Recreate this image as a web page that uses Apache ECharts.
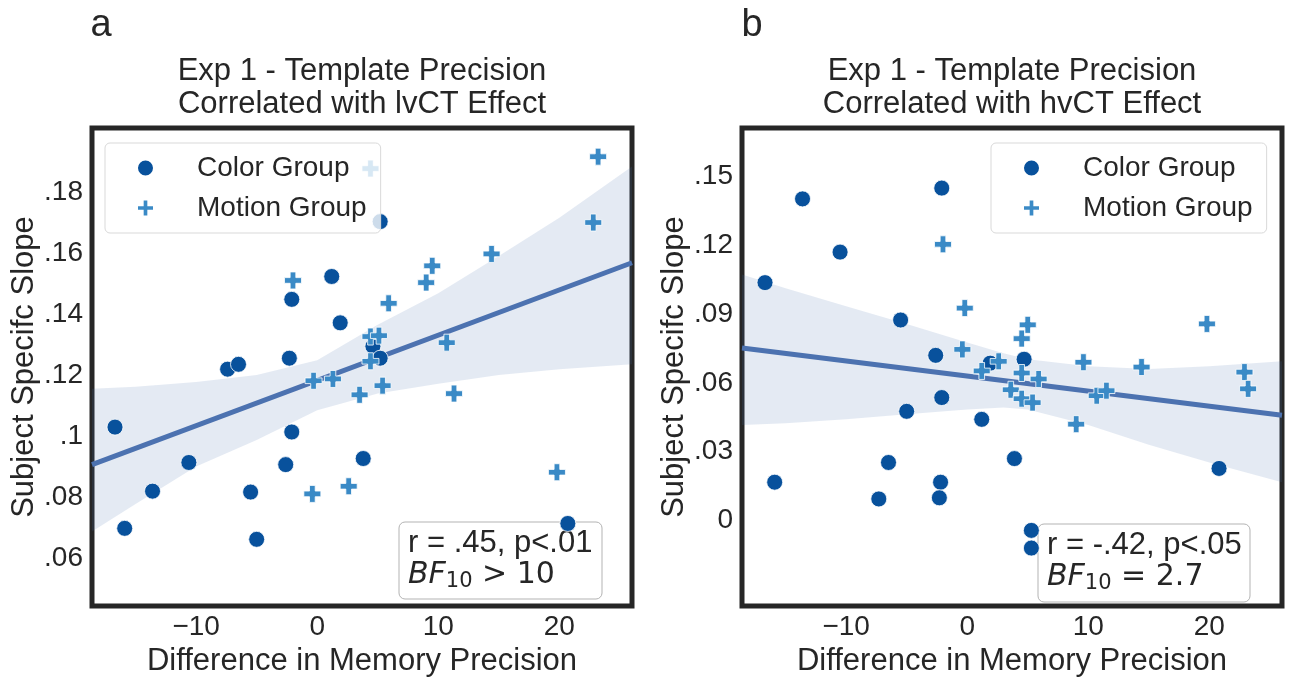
<!DOCTYPE html>
<html>
<head>
<meta charset="utf-8">
<title>Template precision vs CT effect</title>
<script src="https://cdn.jsdelivr.net/npm/echarts@6/dist/echarts.min.js"></script>
<style>
  html, body { margin: 0; padding: 0; background: #fff; }
  #chart { width: 1290px; height: 682px; }
</style>
</head>
<body>
<div id="chart"></div>
<script>
// panel a : template precision vs lvCT effect
const aColorX = [-16.7, -15.9, -13.6, -10.6, -7.4, -6.5, -5.5, -5.0, -2.6, -2.1, -2.3, -2.1, 1.2, 1.9, 3.8, 5.2, 4.6, 5.2, 20.7];
const aColorY = [0.1029, 0.0697, 0.0819, 0.0913, 0.1219, 0.1235, 0.0816, 0.0661, 0.0906, 0.1013, 0.1255, 0.1448, 0.1523, 0.1371, 0.0926, 0.1703, 0.1294, 0.1255, 0.0713];
const aMotionX = [4.4, 23.2, 22.8, 14.4, 9.5, 9.0, 5.9, -2.0, 4.4, 5.1, 4.4, 10.7, -0.3, 1.3, 5.4, 3.5, 11.3, -0.4, 2.6, 19.8];
const aMotionY = [0.1877, 0.1916, 0.1700, 0.1597, 0.1558, 0.1503, 0.1435, 0.1510, 0.1326, 0.1329, 0.1245, 0.1306, 0.1181, 0.1187, 0.1165, 0.1135, 0.1139, 0.0810, 0.0835, 0.0881];
const aFitX = [-18.6, 26.0];
const aFitY = [0.0906, 0.1568];
const aBandX = [-18.6, -15, -10, -5, 0, 5, 10, 15, 20, 26.0];
const aBandUpper = [0.1155, 0.1161, 0.1177, 0.1200, 0.1248, 0.1365, 0.1468, 0.1590, 0.1716, 0.1884];
const aBandLower = [0.0687, 0.0777, 0.0900, 0.0987, 0.1084, 0.1139, 0.1171, 0.1200, 0.1219, 0.1235];

// panel b : template precision vs hvCT effect
const bColorX = [-16.7, -13.6, -10.5, -5.5, -2.1, -2.6, -2.1, -5.0, 1.2, -6.5, -15.9, -7.3, -2.2, -2.3, 1.9, 4.7, 3.9, 20.8, 5.3, 5.3];
const bColorY = [0.1037, 0.1402, 0.1170, 0.0874, 0.1449, 0.0720, 0.0536, 0.0476, 0.0441, 0.0253, 0.0167, 0.0094, 0.0167, 0.0099, 0.0686, 0.0703, 0.0270, 0.0227, -0.0043, -0.0120];
const bMotionX = [-2.0, -0.2, -0.4, 5.0, 4.5, 19.8, 2.6, 1.2, 4.5, 5.9, 3.6, 4.5, 5.4, 9.6, 14.4, 10.7, 11.5, 9.0, 22.9, 23.2];
const bMotionY = [0.1204, 0.0926, 0.0746, 0.0853, 0.0793, 0.0857, 0.0694, 0.0652, 0.0643, 0.0617, 0.0570, 0.0531, 0.0514, 0.0690, 0.0669, 0.0544, 0.0566, 0.0420, 0.0647, 0.0574];
const bFitX = [-18.6, 26.0];
const bFitY = [0.0752, 0.0459];
const bBandX = [-18.6, -15, -10, -5, 0, 3, 5, 10, 15, 20, 26.0];
const bBandUpper = [0.1072, 0.1012, 0.0934, 0.0857, 0.0776, 0.0729, 0.0703, 0.0673, 0.0660, 0.0673, 0.0694];
const bBandLower = [0.0416, 0.0424, 0.0441, 0.0463, 0.0484, 0.0493, 0.0484, 0.0416, 0.0330, 0.0253, 0.0167];

// ticks
const xTickValues = [-10, 0, 10, 20];
const xTickLabels = ["\u221210", "0", "10", "20"];
const aYTickValues = [0.06, 0.08, 0.1, 0.12, 0.14, 0.16, 0.18];
const aYTickLabels = [".06", ".08", ".1", ".12", ".14", ".16", ".18"];
const bYTickValues = [0, 0.03, 0.06, 0.09, 0.12, 0.15];
const bYTickLabels = ["0", ".03", ".06", ".09", ".12", ".15"];

const FONT = '"Liberation Sans", Arial, sans-serif';
const MATH_FONT = '"DejaVu Sans", sans-serif';
const INK = "#262626";
const COLOR_GROUP = "#08519c";
const MOTION_GROUP = "#3a8ac6";
const FIT = "#4c72b0";
const PLUS = "path://M6,0H12V6H18V12H12V18H6V12H0V6H6Z";

function zip(xs, ys) {
  return xs.map((x, i) => [x, ys[i]]);
}

function tickFormatter(values, labels) {
  return (v) => {
    const i = values.findIndex((t) => Math.abs(t - v) < 1e-9);
    return i < 0 ? "" : labels[i];
  };
}

function xAxis(gridIndex) {
  return {
    gridIndex,
    type: "value",
    min: -18.6,
    max: 26.0,
    name: "Difference in Memory Precision",
    nameLocation: "middle",
    nameGap: 33,
    nameTextStyle: { fontFamily: FONT, fontSize: 31, color: INK },
    axisLine: { show: false },
    axisTick: { show: false },
    splitLine: { show: false },
    axisLabel: {
      customValues: xTickValues,
      formatter: tickFormatter(xTickValues, xTickLabels),
      fontFamily: FONT,
      fontSize: 28,
      color: INK,
      margin: 7,
    },
  };
}

function yAxis(gridIndex, min, max, values, labels) {
  return {
    gridIndex,
    type: "value",
    min,
    max,
    name: "Subject Specifc Slope",
    nameLocation: "middle",
    nameGap: 46,
    nameTextStyle: { fontFamily: FONT, fontSize: 31, color: INK },
    axisLine: { show: false },
    axisTick: { show: false },
    splitLine: { show: false },
    axisLabel: {
      customValues: values,
      formatter: tickFormatter(values, labels),
      fontFamily: FONT,
      fontSize: 28,
      color: INK,
      margin: 9,
    },
  };
}

function panelSeries(idx, colorX, colorY, motionX, motionY, fitX, fitY, bandX, upper, lower) {
  return [
    {
      type: "custom",
      xAxisIndex: idx,
      yAxisIndex: idx,
      silent: true,
      z: 1,
      data: [[bandX[0], lower[0]]],
      renderItem: (params, api) => {
        const top = bandX.map((x, i) => api.coord([x, upper[i]]));
        const bottom = bandX.map((x, i) => api.coord([x, lower[i]])).reverse();
        return {
          type: "polygon",
          shape: { points: top.concat(bottom) },
          style: { fill: "rgba(76,114,176,0.15)" },
        };
      },
    },
    {
      type: "line",
      xAxisIndex: idx,
      yAxisIndex: idx,
      silent: true,
      z: 2,
      showSymbol: false,
      data: zip(fitX, fitY),
      lineStyle: { color: FIT, width: 5 },
    },
    {
      name: "Color Group",
      type: "scatter",
      xAxisIndex: idx,
      yAxisIndex: idx,
      z: 3,
      symbol: "circle",
      symbolSize: 16,
      data: zip(colorX, colorY),
      itemStyle: { color: COLOR_GROUP, borderColor: "#fff", borderWidth: 0.8, opacity: 1 },
    },
    {
      name: "Motion Group",
      type: "scatter",
      xAxisIndex: idx,
      yAxisIndex: idx,
      z: 3,
      symbol: PLUS,
      symbolSize: 17,
      data: zip(motionX, motionY),
      itemStyle: { color: MOTION_GROUP, borderColor: "#fff", borderWidth: 0.8, opacity: 1 },
    },
  ];
}

function legend(left) {
  return {
    left,
    top: 143,
    orient: "vertical",
    selectedMode: false,
    backgroundColor: "rgba(255,255,255,0.8)",
    borderColor: "#d9d9d9",
    borderWidth: 1,
    borderRadius: 5,
    padding: [10, 14, 10, 31],
    itemWidth: 17,
    itemHeight: 17,
    itemGap: 10,
    textStyle: { fontFamily: FONT, fontSize: 28, color: INK, lineHeight: 30, padding: [0, 0, 0, 38] },
    data: [
      { name: "Color Group", icon: "circle" },
      { name: "Motion Group", icon: PLUS },
    ],
  };
}

function statBox(x, y, w, h, line1, rel, val) {
  return {
    type: "group",
    x,
    y,
    z: 100,
    children: [
      {
        type: "rect",
        shape: { x: 0, y: 0, width: w, height: h, r: 6 },
        style: { fill: "rgba(255,255,255,0.8)", stroke: "#b3b3b3", lineWidth: 1 },
      },
      {
        type: "text",
        x: 9,
        y: 21,
        style: { text: line1, fontFamily: FONT, fontSize: 31, fill: INK, verticalAlign: "middle" },
      },
      {
        type: "text",
        x: 9,
        y: 53,
        style: {
          text: "{bf|BF}{sub|10}{rest| " + rel + " " + val + "}",
          verticalAlign: "middle",
          rich: {
            bf: { fontFamily: MATH_FONT, fontStyle: "italic", fontSize: 30, fill: INK, lineHeight: 34, verticalAlign: "middle" },
            sub: { fontFamily: MATH_FONT, fontSize: 21, fill: INK, lineHeight: 34, verticalAlign: "bottom" },
            rest: { fontFamily: MATH_FONT, fontSize: 30, fill: INK, lineHeight: 34, verticalAlign: "middle" },
          },
        },
      },
    ],
  };
}

function label(x, y, text, size) {
  return {
    type: "text",
    x,
    y,
    z: 100,
    style: { text, fontFamily: FONT, fontSize: size, fill: INK, align: "center", verticalAlign: "middle" },
  };
}

const chart = echarts.init(document.getElementById("chart"));

chart.setOption({
  backgroundColor: "#ffffff",
  animation: false,
  grid: [
    { left: 92, top: 128, width: 540, height: 486, show: true, borderColor: INK, borderWidth: 5, backgroundColor: "transparent" },
    { left: 742, top: 128, width: 540, height: 486, show: true, borderColor: INK, borderWidth: 5, backgroundColor: "transparent" },
  ],
  xAxis: [xAxis(0), xAxis(1)],
  yAxis: [
    yAxis(0, 0.0442, 0.201, aYTickValues, aYTickLabels),
    yAxis(1, -0.0373, 0.1711, bYTickValues, bYTickLabels),
  ],
  legend: [legend(105), legend(991)],
  series: [
    ...panelSeries(0, aColorX, aColorY, aMotionX, aMotionY, aFitX, aFitY, aBandX, aBandUpper, aBandLower),
    ...panelSeries(1, bColorX, bColorY, bMotionX, bMotionY, bFitX, bFitY, bBandX, bBandUpper, bBandLower),
  ],
  graphic: [
    label(101, 26, "a", 38),
    label(752, 26, "b", 38),
    label(362, 71, "Exp 1 - Template Precision", 31),
    label(362, 104, "Correlated with lvCT Effect", 31),
    label(1012, 71, "Exp 1 - Template Precision", 31),
    label(1012, 104, "Correlated with hvCT Effect", 31),
    statBox(399, 522, 203, 77, "r = .45, p<.01", ">", "10"),
    statBox(1038, 524, 212, 78, "r = -.42, p<.05", "=", "2.7"),
  ],
});

window.addEventListener("resize", () => chart.resize());
</script>
</body>
</html>
